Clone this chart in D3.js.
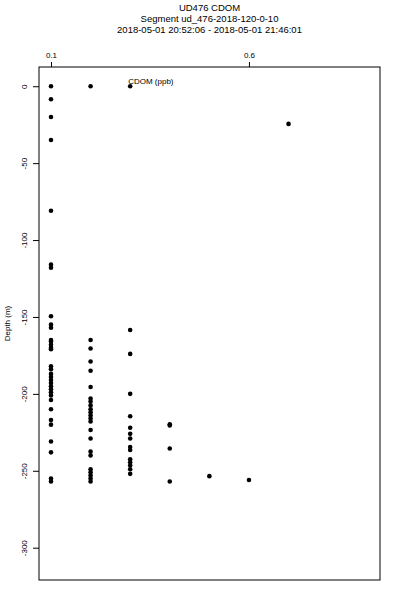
<!DOCTYPE html>
<html>
<head>
<meta charset="utf-8">
<script src="https://cdn.jsdelivr.net/npm/d3@7"></script>
<style>
  body { margin: 0; background: white; }
  text { font-family: "Liberation Sans", Arial, sans-serif; }
</style>
</head>
<body>
<div id="chart"></div>
<script>
// title lines
var titleLines = [
  "UD476 CDOM",
  "Segment ud_476-2018-120-0-10",
  "2018-05-01 20:52:06 - 2018-05-01 21:46:01"
];

// cdom values (ppb) and matching depths (m)
var cdom = [
  0.1, 0.1, 0.1, 0.1, 0.1, 0.1, 0.1, 0.1, 0.1, 0.1, 0.1, 0.1, 0.1, 0.1, 0.1,
  0.1, 0.1, 0.1, 0.1, 0.1, 0.1, 0.1, 0.1, 0.1, 0.1, 0.1, 0.1, 0.1, 0.1, 0.1,
  0.1, 0.1, 0.1,
  0.2, 0.2, 0.2, 0.2, 0.2, 0.2, 0.2, 0.2, 0.2, 0.2, 0.2, 0.2, 0.2, 0.2, 0.2,
  0.2, 0.2, 0.2, 0.2, 0.2, 0.2, 0.2, 0.2,
  0.3, 0.3, 0.3, 0.3, 0.3, 0.3, 0.3, 0.3, 0.3, 0.3, 0.3, 0.3, 0.3, 0.3, 0.3,
  0.4, 0.4, 0.4, 0.4,
  0.5,
  0.6,
  0.7
];
var depth = [
  0, -8.5, -20, -35, -81, -116, -118, -149.5, -155, -157, -165, -166, -168, -170, -171,
  -182, -184, -187, -189, -191, -193, -195, -197, -199, -201, -204, -210, -217, -220, -231,
  -238, -255, -257,
  0, -165, -170.5, -179, -185, -195.5, -203, -205, -207.5, -210, -212, -214, -216, -218, -223.5,
  -229, -237.5, -240, -249, -251, -253, -255, -257,
  0, -158.5, -174, -200, -214.5, -222, -226, -229, -234.5, -236.5, -242.5, -244.5, -246.5, -249, -252,
  -219.8, -220.6, -235.5, -257,
  -253.5,
  -256,
  -24.5
];

var xTicks = [0.1, 0.6];
var yTicks = [0, -50, -100, -150, -200, -250, -300];

var width = 400, height = 600;
var margin = { top: 67, right: 20, bottom: 20, left: 39 };

var svg = d3
  .select("#chart")
  .append("svg")
  .attr("width", width)
  .attr("height", height);

svg.append("rect")
  .attr("width", width)
  .attr("height", height)
  .attr("fill", "white");

// scales
var x = d3.scaleLinear()
  .domain([0.0697, 0.931])
  .range([margin.left, width - margin.right]);

var y = d3.scaleLinear()
  .domain([12.5, -321])
  .range([margin.top, height - margin.bottom]);

// title
svg.selectAll(".title")
  .data(titleLines)
  .enter()
  .append("text")
  .attr("x", (margin.left + width - margin.right) / 2)
  .attr("y", function (d, i) { return 10.5 + i * 11; })
  .attr("text-anchor", "middle")
  .style("font-size", "9.5px")
  .text(function (d) { return d; });

// top axis
var xAxis = svg.append("g")
  .attr("transform", "translate(0," + margin.top + ")")
  .call(d3.axisTop(x).tickValues(xTicks).tickSize(5).tickPadding(4)
    .tickFormat(function (d) { return d; }));
xAxis.select(".domain").remove();
xAxis.selectAll("text").style("font-size", "8px").attr("fill", "black");
xAxis.selectAll("line").attr("stroke", "black");

// left axis
var yAxis = svg.append("g")
  .attr("transform", "translate(" + margin.left + ",0)")
  .call(d3.axisLeft(y).tickValues(yTicks).tickSize(6)
    .tickFormat(function (d) { return d; }));
yAxis.select(".domain").remove();
yAxis.selectAll("line").attr("stroke", "black");
yAxis.selectAll("text")
  .attr("transform", "rotate(-90)")
  .attr("x", 0)
  .attr("y", -15)
  .attr("dy", null)
  .attr("dominant-baseline", "central")
  .attr("text-anchor", "middle")
  .attr("fill", "black")
  .style("font-size", "8px");

// y label
svg.append("text")
  .attr("transform", "translate(7," + (margin.top + height - margin.bottom) / 2 + ") rotate(-90)")
  .attr("text-anchor", "middle")
  .attr("dominant-baseline", "central")
  .style("font-size", "8px")
  .text("Depth (m)");

// plot box
svg.append("rect")
  .attr("x", margin.left)
  .attr("y", margin.top)
  .attr("width", width - margin.right - margin.left)
  .attr("height", height - margin.bottom - margin.top)
  .attr("fill", "none")
  .attr("stroke", "black")
  .attr("stroke-width", 1);

// points
svg.selectAll(".pt")
  .data(cdom)
  .enter()
  .append("circle")
  .attr("cx", function (d) { return x(d); })
  .attr("cy", function (d, i) { return y(depth[i]); })
  .attr("r", 2.3)
  .attr("fill", "black");

// series label
svg.append("text")
  .attr("x", x(0.3) - 2)
  .attr("y", y(0) - 2)
  .style("font-size", "8px")
  .text("CDOM (ppb)");
</script>
</body>
</html>
